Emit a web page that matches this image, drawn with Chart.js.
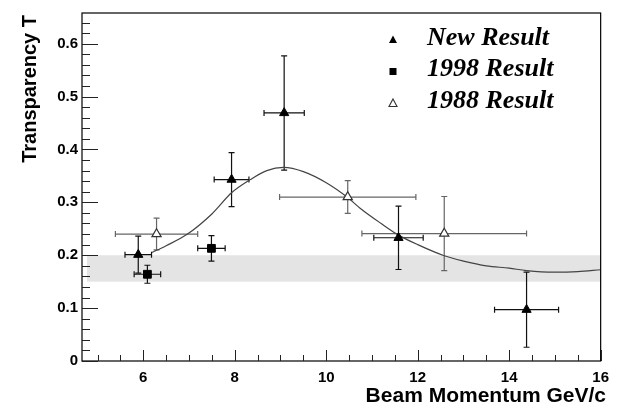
<!DOCTYPE html>
<html>
<head>
<meta charset="utf-8">
<script src="https://cdn.jsdelivr.net/npm/chart.js@4.4.0/dist/chart.umd.min.js"></script>
<style>
  html, body { margin: 0; padding: 0; background: #fff; }
  #wrap { width: 617px; height: 406px; }
</style>
</head>
<body>
<div id="wrap"><canvas id="transparency"></canvas></div>
<script>
// New Result (filled triangles)
const newX = [5.89, 7.93, 9.08, 11.58, 14.38];
const newY = [0.201, 0.343, 0.469, 0.233, 0.097];
const newXErr = [0.29, 0.38, 0.44, 0.54, 0.70];
const newYErr = [0.035, 0.051, 0.108, 0.060, 0.071];

// 1998 Result (filled squares)
const r1998X = [6.09, 7.49];
const r1998Y = [0.164, 0.213];
const r1998XErr = [0.29, 0.30];
const r1998YErr = [0.017, 0.024];

// 1988 Result (open triangles)
const r1988X = [6.29, 10.47, 12.58];
const r1988Y = [0.240, 0.310, 0.241];
const r1988XErr = [0.90, 1.49, 1.80];
const r1988YErr = [0.030, 0.031, 0.070];

// fitted curve
const curveX = [6.19, 6.5, 6.95, 7.5, 7.93, 8.34, 8.7, 9.07, 9.5, 10.0, 10.47, 10.74, 11.2, 11.58, 12.0, 12.58, 13.0, 13.5, 14.0, 14.38, 14.97, 15.5, 16.0];
const curveY = [0.205, 0.218, 0.239, 0.278, 0.318, 0.343, 0.360, 0.366, 0.358, 0.337, 0.309, 0.289, 0.260, 0.238, 0.220, 0.199, 0.189, 0.180, 0.1755, 0.171, 0.168, 0.169, 0.1725];

// grey band
const bandX = [4.77, 16];
const bandY = [0.15, 0.20];

const xTicks = [6, 8, 10, 12, 14, 16];
const yTicks = [0, 0.1, 0.2, 0.3, 0.4, 0.5, 0.6];
const legendLabels = ["New Result", "1998 Result", "1988 Result"];

const toPoints = (xs, ys) => xs.map((x, i) => ({ x: x, y: ys[i] }));

function drawErrors(chart, xs, ys, xe, ye, color) {
  const ctx = chart.ctx;
  const sx = chart.scales.x;
  const sy = chart.scales.y;
  const cap = 3;
  ctx.save();
  ctx.strokeStyle = color;
  ctx.lineWidth = 1.2;
  xs.forEach((x, i) => {
    const px = sx.getPixelForValue(x);
    const py = sy.getPixelForValue(ys[i]);
    const x1 = sx.getPixelForValue(x - xe[i]);
    const x2 = sx.getPixelForValue(x + xe[i]);
    const y1 = sy.getPixelForValue(ys[i] + ye[i]);
    const y2 = sy.getPixelForValue(ys[i] - ye[i]);
    ctx.beginPath();
    ctx.moveTo(x1, py); ctx.lineTo(x2, py);
    ctx.moveTo(px, y1); ctx.lineTo(px, y2);
    ctx.moveTo(x1, py - cap); ctx.lineTo(x1, py + cap);
    ctx.moveTo(x2, py - cap); ctx.lineTo(x2, py + cap);
    ctx.moveTo(px - cap, y1); ctx.lineTo(px + cap, y1);
    ctx.moveTo(px - cap, y2); ctx.lineTo(px + cap, y2);
    ctx.stroke();
  });
  ctx.restore();
}

const decorPlugin = {
  id: "decor",
  beforeDatasetsDraw(chart) {
    const ctx = chart.ctx;
    const sx = chart.scales.x;
    const sy = chart.scales.y;
    // band
    const bx1 = sx.getPixelForValue(bandX[0]);
    const bx2 = sx.getPixelForValue(bandX[1]);
    const by1 = sy.getPixelForValue(bandY[1]);
    const by2 = sy.getPixelForValue(bandY[0]);
    ctx.save();
    ctx.fillStyle = "#e4e4e4";
    ctx.fillRect(bx1, by1, bx2 - bx1, by2 - by1);
    ctx.restore();

    drawErrors(chart, r1988X, r1988Y, r1988XErr, r1988YErr, "#666");
    drawErrors(chart, r1998X, r1998Y, r1998XErr, r1998YErr, "#111");
    drawErrors(chart, newX, newY, newXErr, newYErr, "#111");
  },
  afterDraw(chart) {
    const ctx = chart.ctx;
    const a = chart.chartArea;
    const sx = chart.scales.x;
    const sy = chart.scales.y;
    ctx.save();
    // frame
    ctx.strokeStyle = "#000";
    ctx.lineWidth = 1.2;
    ctx.strokeRect(a.left, a.top, a.right - a.left, a.bottom - a.top);

    // inward tick marks
    ctx.lineWidth = 1;
    ctx.strokeStyle = "#222";
    ctx.beginPath();
    for (let v = 0; v <= sy.max + 1e-9; v += 0.02) {
      const py = Math.round(sy.getPixelForValue(v)) + 0.5;
      const major = yTicks.some(t => Math.abs(t - v) < 1e-6);
      ctx.moveTo(a.left, py);
      ctx.lineTo(a.left + (major ? 16 : 8), py);
    }
    for (let v = 5; v <= 16 + 1e-9; v += 0.5) {
      const px = Math.round(sx.getPixelForValue(v)) + 0.5;
      const major = xTicks.includes(v);
      ctx.moveTo(px, a.bottom);
      ctx.lineTo(px, a.bottom - (major ? 11 : 6));
    }
    ctx.stroke();

    // axis titles
    ctx.fillStyle = "#000";
    ctx.font = "bold 21px 'Liberation Sans', Arial, sans-serif";
    ctx.textAlign = "right";
    ctx.textBaseline = "alphabetic";
    ctx.fillText("Beam Momentum GeV/c", 606, 401.5);
    ctx.font = "bold 20px 'Liberation Sans', Arial, sans-serif";
    ctx.textBaseline = "middle";
    ctx.save();
    ctx.translate(30, 15);
    ctx.rotate(-Math.PI / 2);
    ctx.textAlign = "right";
    ctx.fillText("Transparency T", 0, 0);
    ctx.restore();

    // legend
    const lx = 393;
    const rows = [40, 71.5, 103.5];
    ctx.font = "italic bold 26px 'Liberation Serif', 'Times New Roman', serif";
    ctx.textAlign = "left";
    ctx.textBaseline = "alphabetic";
    legendLabels.forEach((label, i) => {
      ctx.fillText(label, 427, rows[i] + 4.5);
    });
    // legend markers
    ctx.fillStyle = "#000";
    ctx.beginPath();
    ctx.moveTo(lx, rows[0] - 4.5); ctx.lineTo(lx + 4, rows[0] + 3); ctx.lineTo(lx - 4, rows[0] + 3);
    ctx.closePath(); ctx.fill();
    ctx.fillRect(lx - 3.5, rows[1] - 3.5, 7, 7);
    ctx.fillStyle = "#fff";
    ctx.strokeStyle = "#333";
    ctx.lineWidth = 1.1;
    ctx.beginPath();
    ctx.moveTo(lx, rows[2] - 4.5); ctx.lineTo(lx + 4, rows[2] + 3); ctx.lineTo(lx - 4, rows[2] + 3);
    ctx.closePath(); ctx.fill(); ctx.stroke();
    ctx.restore();
  }
};

const tickFont = { family: "'Liberation Sans', Arial, sans-serif", size: 15, weight: "bold" };

new Chart(document.getElementById("transparency"), {
  type: "scatter",
  data: {
    datasets: [
      {
        label: legendLabels[0],
        data: toPoints(newX, newY),
        pointStyle: "triangle",
        pointRadius: 5.3,
        backgroundColor: "#000",
        borderColor: "#000",
        borderWidth: 1
      },
      {
        label: legendLabels[1],
        data: toPoints(r1998X, r1998Y),
        pointStyle: "rect",
        pointRadius: 5.5,
        backgroundColor: "#000",
        borderColor: "#000",
        borderWidth: 1
      },
      {
        label: legendLabels[2],
        data: toPoints(r1988X, r1988Y),
        pointStyle: "triangle",
        pointRadius: 5.3,
        backgroundColor: "#fff",
        borderColor: "#333",
        borderWidth: 1.2
      },
      {
        label: "fit",
        data: toPoints(curveX, curveY),
        showLine: true,
        pointRadius: 0,
        borderColor: "#444",
        borderWidth: 1.2,
        cubicInterpolationMode: "monotone",
        fill: false
      }
    ]
  },
  options: {
    responsive: true,
    maintainAspectRatio: false,
    animation: false,
    layout: { padding: { left: 0, right: 16, top: 7, bottom: 0 } },
    plugins: {
      legend: { display: false },
      tooltip: { enabled: false }
    },
    scales: {
      x: {
        type: "linear",
        min: 4.66,
        max: 16,
        grid: { display: false, drawTicks: false },
        border: { display: false },
        afterBuildTicks: (scale) => { scale.ticks = xTicks.map(v => ({ value: v })); },
        afterFit: (scale) => { scale.height = 45; },
        ticks: {
          font: tickFont,
          color: "#000",
          padding: 8,
          maxRotation: 0,
          callback: (v) => String(v)
        }
      },
      y: {
        type: "linear",
        min: 0,
        max: 0.658,
        grid: { display: false, drawTicks: false },
        border: { display: false },
        afterBuildTicks: (scale) => { scale.ticks = yTicks.map(v => ({ value: v })); },
        afterFit: (scale) => { scale.width = 82; },
        ticks: {
          font: tickFont,
          color: "#000",
          padding: 4,
          callback: (v) => String(Math.round(v * 10) / 10)
        }
      }
    }
  },
  plugins: [decorPlugin]
});
</script>
</body>
</html>
